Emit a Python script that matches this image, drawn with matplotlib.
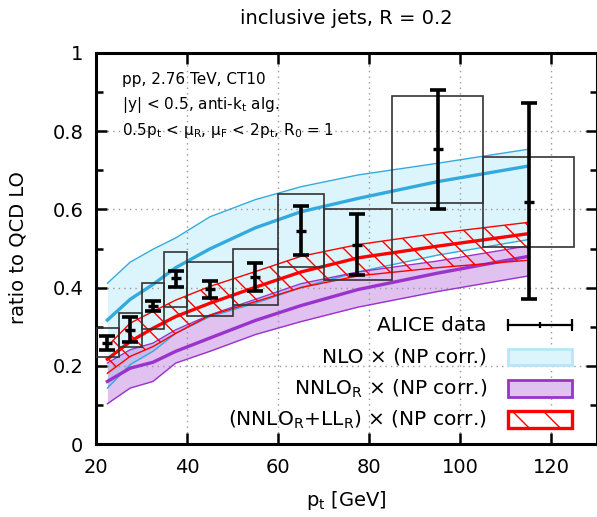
import numpy as np
import matplotlib
matplotlib.use("Agg")
import matplotlib.pyplot as plt
from matplotlib.lines import Line2D
from matplotlib.patches import Rectangle

plt.rcParams['font.family'] = ['DejaVu Sans']
plt.rcParams['mathtext.default'] = 'regular'

# ALICE data (bins, values, stat err, syst box)
bin_edges = [20, 25, 30, 35, 40, 50, 60, 70, 85, 105, 125]
pt_pts = [22.5, 27.5, 32.5, 37.5, 45, 55, 65, 77.3, 95, 115]
data_val = [0.258, 0.292, 0.353, 0.424, 0.396, 0.426, 0.546, 0.509, 0.754, 0.620]
data_err_hi = [0.277, 0.324, 0.367, 0.443, 0.417, 0.463, 0.608, 0.588, 0.905, 0.873]
data_err_lo = [0.240, 0.260, 0.339, 0.401, 0.374, 0.391, 0.483, 0.432, 0.602, 0.370]
box_top = [0.296, 0.336, 0.411, 0.491, 0.466, 0.499, 0.639, 0.601, 0.891, 0.733]
box_bot = [0.222, 0.249, 0.293, 0.351, 0.327, 0.355, 0.452, 0.419, 0.617, 0.505]

# theory curves at bin centres
pt_th = [22.5, 27.5, 32.5, 37.5, 45, 55, 65, 77.5, 95, 115]
nlo_up = [0.411, 0.465, 0.498, 0.527, 0.581, 0.625, 0.658, 0.688, 0.718, 0.754]
nlo_c = [0.317, 0.370, 0.408, 0.451, 0.499, 0.553, 0.594, 0.628, 0.671, 0.711]
nlo_lo = [0.143, 0.203, 0.237, 0.283, 0.326, 0.360, 0.400, 0.440, 0.483, 0.523]
nnlo_up = [0.207, 0.241, 0.258, 0.292, 0.330, 0.370, 0.410, 0.440, 0.468, 0.507]
nnlo_c = [0.160, 0.194, 0.209, 0.237, 0.271, 0.316, 0.354, 0.395, 0.437, 0.480]
nnlo_lo = [0.103, 0.143, 0.160, 0.207, 0.237, 0.280, 0.313, 0.350, 0.390, 0.430]
ll_up = [0.250, 0.309, 0.339, 0.368, 0.403, 0.441, 0.480, 0.510, 0.539, 0.567]
ll_c = [0.217, 0.262, 0.296, 0.326, 0.360, 0.401, 0.440, 0.476, 0.506, 0.538]
ll_lo = [0.181, 0.224, 0.249, 0.283, 0.329, 0.364, 0.400, 0.430, 0.451, 0.470]

xticks = [20, 40, 60, 80, 100, 120]
yticks = [0, 0.2, 0.4, 0.6, 0.8, 1.0]
ytick_labels = ['0', '0.2', '0.4', '0.6', '0.8', '1']

C_BLUE = '#33aadd'
C_BLUE_FILL = '#dcf5fc'
C_PURP = '#9933cc'
C_RED = '#ff0000'


def hatch_lines(ax, clip, spacing=0.048, lw=1.0, zorder=2.6):
    # "\" lines at 45 deg (pixel space) clipped to a patch or (path, transform)
    w, h = 501.0, 391.0
    k = h / w
    for x0 in np.arange(-1.0, 1.5, spacing):
        ln = Line2D([x0, x0 + k], [1, 0], transform=ax.transAxes,
                    color=C_RED, lw=lw, zorder=zorder)
        ax.add_line(ln)
        if isinstance(clip, tuple):
            ln.set_clip_path(*clip)
        else:
            ln.set_clip_path(clip)


fig = plt.figure(figsize=(5.97, 5.17), dpi=100)
ax = fig.add_axes([96 / 597, 73 / 517, 501 / 597, 391 / 517])

# NLO band
ax.fill_between(pt_th, nlo_lo, nlo_up, color=C_BLUE_FILL, lw=0, zorder=1)
ax.plot(pt_th, nlo_up, color=C_BLUE, lw=1.0, zorder=2)
ax.plot(pt_th, nlo_lo, color=C_BLUE, lw=1.0, zorder=2)
ax.plot(pt_th, nlo_c, color=C_BLUE, lw=2.4, zorder=2)

# NNLO_R band
ax.fill_between(pt_th, nnlo_lo, nnlo_up, color=C_PURP, alpha=0.3, lw=0, zorder=1.2)
ax.plot(pt_th, nnlo_up, color=C_PURP, lw=1.0, zorder=2.1)
ax.plot(pt_th, nnlo_lo, color=C_PURP, lw=1.0, zorder=2.1)
ax.plot(pt_th, nnlo_c, color=C_PURP, lw=2.4, zorder=2.1)

# NNLO_R + LL_R band (hatched)
poly = ax.fill_between(pt_th, ll_lo, ll_up, facecolor='none', lw=0, zorder=2.5)
hatch_lines(ax, (poly.get_paths()[0], ax.transData), spacing=0.046)
ax.plot(pt_th, ll_up, color=C_RED, lw=1.0, zorder=2.7)
ax.plot(pt_th, ll_lo, color=C_RED, lw=1.0, zorder=2.7)
ax.plot(pt_th, ll_c, color=C_RED, lw=2.4, zorder=2.7)

# systematic boxes
edges = np.array(bin_edges, dtype=float)
widths = np.diff(edges)
lefts = edges[:-1]
ax.bar(lefts, np.array(box_top) - np.array(box_bot), width=widths, bottom=box_bot,
       align='edge', fill=False, edgecolor='#333333', lw=1.2, zorder=3)

# data points with stat errors
val = np.array(data_val)
yerr = [val - np.array(data_err_lo), np.array(data_err_hi) - val]
ax.errorbar(pt_pts, data_val, yerr=yerr, fmt='none', ecolor='black',
            elinewidth=2.6, capsize=6, capthick=2.6, zorder=4)
ax.plot(pt_pts, data_val, ls='none', marker='_', ms=7, mew=2.4, color='black', zorder=4)

ax.set_xlim(20, 130)
ax.set_ylim(0, 1)
ax.set_xticks(xticks)
ax.set_yticks(yticks)
ax.set_yticklabels(ytick_labels)
ax.set_yticks(np.arange(0, 1.01, 0.1), minor=True)
ax.tick_params(which='both', direction='in', top=True, right=True,
               labelsize=14, width=1.8)
ax.tick_params(which='major', length=8)
ax.tick_params(which='minor', length=5)
ax.tick_params(axis='x', pad=10)
ax.tick_params(axis='y', pad=9)
for sp in ax.spines.values():
    sp.set_linewidth(2.2)
ax.set_axisbelow('line')
ax.grid(True, which='major', color='#999999', ls=(0, (1, 3)), lw=1.0)

# annotation text
ax.text(0.051, 0.931, 'pp, 2.76 TeV, CT10', transform=ax.transAxes,
        fontsize=11, va='center', ha='left')
ax.text(0.051, 0.867, '|y| < 0.5, anti-k$_t$ alg.', transform=ax.transAxes,
        fontsize=11, va='center', ha='left')
ax.text(0.051, 0.803, '0.5p$_t$ < μ$_R$, μ$_F$ < 2p$_t$, R$_0$ = 1',
        transform=ax.transAxes, fontsize=11, va='center', ha='left')

# legend (text left of sample, as in gnuplot)
tx = 0.780
sx0, sx1 = 0.822, 0.951
rows = [0.304, 0.223, 0.142, 0.063]
bh = 0.042
labels = ['ALICE data', 'NLO × (NP corr.)', 'NNLO$_R$ × (NP corr.)',
          '(NNLO$_R$+LL$_R$) × (NP corr.)']
for yy, lab in zip(rows, labels):
    ax.text(tx, yy, lab, transform=ax.transAxes, fontsize=14.5,
            ha='right', va='center', zorder=6)

ax.plot([sx0, sx1], [rows[0], rows[0]], transform=ax.transAxes, color='black',
        lw=1.6, zorder=6)
ax.plot([sx0, sx1], [rows[0], rows[0]], transform=ax.transAxes, ls='none',
        marker='|', ms=9, mew=1.6, color='black', zorder=6)
ax.plot([(sx0 + sx1) / 2], [rows[0]], transform=ax.transAxes, ls='none',
        marker='|', ms=5, mew=1.6, color='black', zorder=6)

ax.add_patch(Rectangle((sx0, rows[1] - bh / 2), sx1 - sx0, bh, transform=ax.transAxes,
                       facecolor=C_BLUE_FILL, edgecolor='#b8e6f8', lw=2.0, zorder=6))
ax.add_patch(Rectangle((sx0, rows[2] - bh / 2), sx1 - sx0, bh, transform=ax.transAxes,
                       facecolor='#e0c2f0', edgecolor=C_PURP, lw=2.0, zorder=6))
rect = Rectangle((sx0, rows[3] - bh / 2), sx1 - sx0, bh, transform=ax.transAxes,
                 facecolor='white', edgecolor=C_RED, lw=2.4, zorder=6)
ax.add_patch(rect)
hatch_lines(ax, rect, spacing=0.062, zorder=6.5)

fig.text(346 / 597, 1 - 18 / 517, 'inclusive jets, R = 0.2', fontsize=14,
         ha='center', va='center')
fig.text(18 / 597, 1 - 248 / 517, 'ratio to QCD LO', fontsize=14, rotation=90,
         ha='center', va='center')
fig.text(346 / 597, 1 - 501 / 517, 'p$_t$ [GeV]', fontsize=14,
         ha='center', va='center')

fig.savefig('out.png', dpi=100)
